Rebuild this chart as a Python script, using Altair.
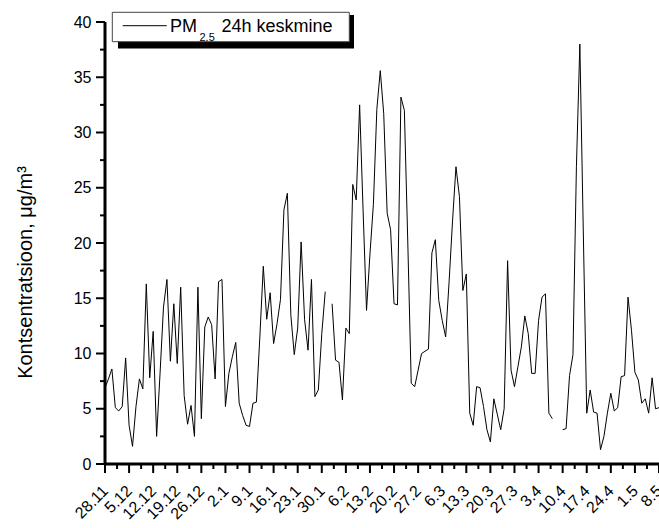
import altair as alt
import pandas as pd

# ---- data ----
pm25 = [
    6.9, 7.7, 8.6, 5.1, 4.8, 5.2, 9.6, 3.5, 1.6, 5.2,
    7.7, 6.8, 16.3, 7.8, 12.0, 2.5, 8.2, 14.2, 16.7, 9.3,
    14.5, 9.1, 16.0, 6.2, 3.6, 5.3, 2.5, 16.0, 4.1, 12.4,
    13.3, 12.6, 7.7, 16.5, 16.7, 5.2, 8.2, 9.7, 11.0, 5.5,
    4.4, 3.5, 3.4, 5.5, 5.6, 11.5, 17.9, 13.1, 15.5, 10.9,
    12.7, 14.9, 23.0, 24.5, 13.5, 9.9, 12.3, 20.1, 13.1, 10.3,
    16.7, 6.1, 6.7, 11.8, 15.6, None, 14.5, 9.4, 9.2, 5.8,
    12.3, 11.8, 25.3, 23.9, 32.5, 23.0, 13.9, 19.0, 23.5, 32.1,
    35.6, 31.7, 22.7, 21.2, 14.5, 14.4, 33.2, 32.0, 20.0, 7.3,
    7.0, 8.5, 10.0, 10.2, 10.4, 19.1, 20.3, 14.8, 13.0, 11.5,
    16.5, 22.0, 26.9, 24.2, 15.7, 17.2, 4.6, 3.5, 7.0, 6.9,
    5.2, 3.1, 2.0, 5.9, 4.5, 3.1, 5.0, 18.4, 8.5, 7.0,
    8.8, 10.6, 13.4, 11.8, 8.2, 8.2, 13.0, 15.1, 15.4, 4.6,
    4.1, None, None, 3.1, 3.2, 8.0, 9.9, 26.9, 38.0, 21.0,
    4.6, 6.7, 4.7, 4.6, 1.3, 2.5, 4.6, 6.4, 4.8, 5.1,
    7.9, 8.0, 15.1, 12.1, 8.3, 7.6, 5.5, 5.9, 4.6, 7.8,
    5.0, 5.1,
]
days = list(range(len(pm25)))
tick_labels = ["28.11", "5.12", "12.12", "19.12", "26.12", "2.1", "9.1", "16.1",
               "23.1", "30.1", "6.2", "13.2", "20.2", "27.2", "6.3", "13.3",
               "20.3", "27.3", "3.4", "10.4", "17.4", "24.4", "1.5", "8.5"]
y_title = "Kontsentratsioon, \u03bcg/m\u00b3"
legend_main = "PM"
legend_sub = "2.5"
legend_rest = "24h keskmine"

# segments (line breaks at missing days)
rows, seg = [], 0
for d, v in zip(days, pm25):
    if v is None:
        seg += 1
        continue
    rows.append({"day": d, "pm": v, "seg": seg})
df = pd.DataFrame(rows)

FONT = "Liberation Sans"
W, H = 554, 442
last_day = days[-1]
x_major = [7 * i for i in range(len(tick_labels))]
x_minor = [7 * i + 3.5 for i in range(len(tick_labels) - 1)]
y_major = [5 * i for i in range(9)]
y_minor = [5 * i + 2.5 for i in range(8)]
label_arr = "[" + ",".join("'" + t + "'" for t in tick_labels) + "]"

x_scale = alt.Scale(domain=[0, last_day], nice=False, zero=False)
y_scale = alt.Scale(domain=[0, 40], nice=False)

x_axis = alt.Axis(
    values=x_major, title=None, grid=False, domain=False, ticks=False, tickSize=0,
    labelExpr=f"{label_arr}[round(datum.value / 7)]",
    labelAngle=315, labelAlign="right", labelBaseline="middle",
    labelPadding=24, labelOverlap=False, labelFlush=False,
    labelFont=FONT, labelFontSize=16, labelColor="black",
)
y_axis = alt.Axis(
    values=y_major, grid=False, title=y_title, domain=False, ticks=False, tickSize=0,
    labelPadding=14, labelOverlap=False, labelFlush=False,
    labelFont=FONT, labelFontSize=16, labelColor="black",
    titleFont=FONT, titleFontSize=20, titleFontWeight="normal", titleColor="black",
    titleAngle=270, titleX=-74, titleY=250, titleAlign="center", titleBaseline="alphabetic",
)

X = lambda f: alt.X(f"{f}:Q", scale=x_scale, axis=x_axis)
Y = lambda f: alt.Y(f"{f}:Q", scale=y_scale, axis=y_axis)

line = alt.Chart(df).mark_line(color="black", strokeWidth=1).encode(
    x=X("day"), y=Y("pm"), detail="seg:N",
)

# axis lines (filled rects) and ticks (tick marks), placed through the same scales
x_dom = alt.Chart(pd.DataFrame({"day": [0], "day2": [last_day]})).mark_rect(
    color="black").encode(x=X("day"), x2="day2:Q", y=alt.value(H - 1.5), y2=alt.value(H + 1.5))
y_dom = alt.Chart(pd.DataFrame({"pm": [0], "pm2": [40]})).mark_rect(
    color="black").encode(y=Y("pm"), y2="pm2:Q", x=alt.value(-1.5), x2=alt.value(1.5))
x_maj = alt.Chart(pd.DataFrame({"day": x_major})).mark_tick(
    color="black", orient="vertical", thickness=2, size=9, opacity=1).encode(
    x=X("day"), y=alt.value(H + 4.5))
x_min = alt.Chart(pd.DataFrame({"day": x_minor})).mark_tick(
    color="black", orient="vertical", thickness=2, size=5, opacity=1).encode(
    x=X("day"), y=alt.value(H + 2.5))
y_maj = alt.Chart(pd.DataFrame({"pm": y_major})).mark_tick(
    color="black", orient="horizontal", thickness=2, size=9, opacity=1).encode(
    y=Y("pm"), x=alt.value(-4.5))
y_min = alt.Chart(pd.DataFrame({"pm": y_minor})).mark_tick(
    color="black", orient="horizontal", thickness=2, size=5, opacity=1).encode(
    y=Y("pm"), x=alt.value(-2.5))

one = pd.DataFrame({"k": [0]})
shadow = alt.Chart(one).mark_rect(color="black").encode(
    x=alt.value(13), x2=alt.value(249), y=alt.value(-7), y2=alt.value(26.5))
box = alt.Chart(one).mark_rect(fill="white", stroke="#444444", strokeWidth=1).encode(
    x=alt.value(7.3), x2=alt.value(244.3), y=alt.value(-9.7), y2=alt.value(19.7))
sample = alt.Chart(one).mark_rule(color="black", strokeWidth=1).encode(
    x=alt.value(17.7), x2=alt.value(61.7), y=alt.value(3.7))
t_main = alt.Chart(one).mark_text(align="left", baseline="alphabetic", font=FONT,
                                  fontSize=18, color="black").encode(
    x=alt.value(65), y=alt.value(9.7), text=alt.value(legend_main))
t_sub = alt.Chart(one).mark_text(align="left", baseline="alphabetic", font=FONT,
                                 fontSize=11, color="black").encode(
    x=alt.value(94.5), y=alt.value(18.8), text=alt.value(legend_sub))
t_rest = alt.Chart(one).mark_text(align="left", baseline="alphabetic", font=FONT,
                                  fontSize=18, color="black").encode(
    x=alt.value(116.5), y=alt.value(9.7), text=alt.value(legend_rest))

chart = alt.layer(
    line, x_dom, y_dom, x_maj, x_min, y_maj, y_min,
    shadow, box, sample, t_main, t_sub, t_rest,
).properties(
    width=W, height=H, background="white",
    autosize=alt.AutoSizeParams(type="none"),
    padding={"left": 105, "top": 22, "right": 0, "bottom": 64},
).configure_view(strokeWidth=0)

chart.save("out.html", embed_options={"renderer": "svg", "actions": False})
